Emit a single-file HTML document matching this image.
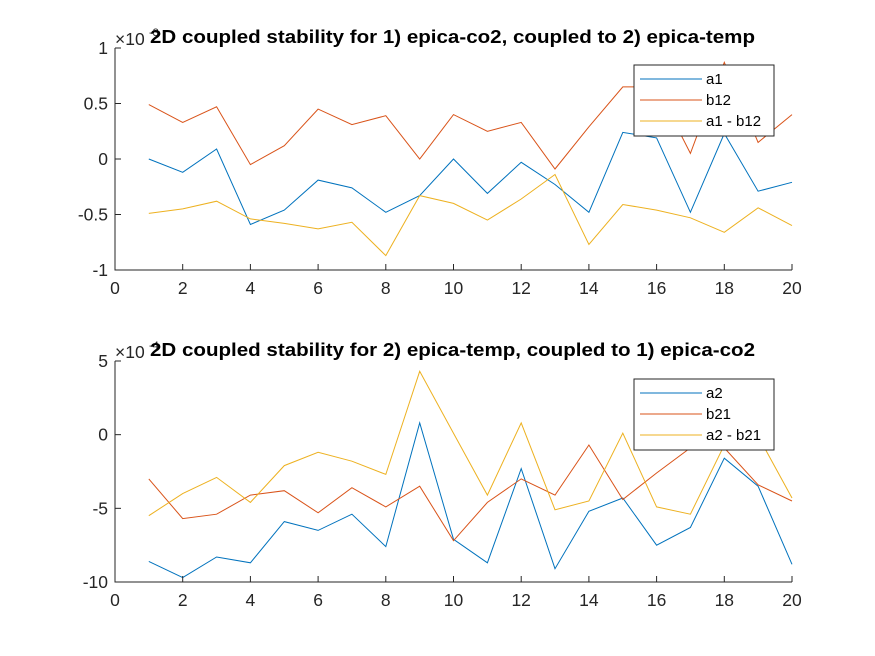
<!DOCTYPE html>
<html><head><meta charset="utf-8"><style>
html,body{margin:0;padding:0;background:#fff;}
svg{display:block;font-family:"Liberation Sans",Arial,sans-serif;}
</style></head><body>
<svg id="fig" width="875" height="656" viewBox="0 0 875 656" xmlns="http://www.w3.org/2000/svg"></svg>
<script>
const xCats = [1,2,3,4,5,6,7,8,9,10,11,12,13,14,15,16,17,18,19,20];
const xTicks = [0,2,4,6,8,10,12,14,16,18,20];
const a1 = [0.0,-0.12,0.09,-0.59,-0.46,-0.19,-0.26,-0.48,-0.33,0.0,-0.31,-0.03,-0.23,-0.48,0.24,0.19,-0.48,0.23,-0.29,-0.21];
const b12 = [0.49,0.33,0.47,-0.05,0.12,0.45,0.31,0.39,0.0,0.40,0.25,0.33,-0.09,0.29,0.65,0.65,0.05,0.87,0.15,0.40];
const a1b12 = [-0.49,-0.45,-0.38,-0.54,-0.58,-0.63,-0.57,-0.87,-0.33,-0.40,-0.55,-0.36,-0.14,-0.77,-0.41,-0.46,-0.53,-0.66,-0.44,-0.60];
const topYTicks = [-1,-0.5,0,0.5,1];
const topYLabels = ["-1","-0.5","0","0.5","1"];
const a2 = [-8.6,-9.7,-8.3,-8.7,-5.9,-6.5,-5.4,-7.6,0.8,-7.1,-8.7,-2.3,-9.1,-5.2,-4.3,-7.5,-6.3,-1.6,-3.5,-8.8];
const b21 = [-3.0,-5.7,-5.4,-4.1,-3.8,-5.3,-3.6,-4.9,-3.5,-7.2,-4.6,-3.0,-4.1,-0.7,-4.4,-2.6,-0.9,-0.9,-3.4,-4.5];
const a2b21 = [-5.5,-4.0,-2.9,-4.6,-2.1,-1.2,-1.8,-2.7,4.3,0.1,-4.1,0.8,-5.1,-4.5,0.1,-4.9,-5.4,-0.7,-0.1,-4.3];
const botYTicks = [-10,-5,0,5];
const botYLabels = ["-10","-5","0","5"];

const NS="http://www.w3.org/2000/svg";
const svg=document.getElementById('fig');
function el(tag,attrs,parent){const e=document.createElementNS(NS,tag);for(const k in attrs)e.setAttribute(k,attrs[k]);(parent||svg).appendChild(e);return e;}
const colors=["#0072BD","#D95319","#EDB120"];

function panel(cfg){
  const g=el('g',{});
  
  
  const L=115,R=792,T=cfg.top,B=cfg.bottom;
  const xs=v=>L+(v-0)/(20-0)*(R-L);
  const ys=v=>B-(v-cfg.ymin)/(cfg.ymax-cfg.ymin)*(B-T);
  cfg.series.forEach((s,i)=>{
    const p=el('polyline',{points:s.map((v,j)=>xs(xCats[j]).toFixed(1)+','+ys(v).toFixed(1)).join(' '),fill:'none',stroke:colors[i],'stroke-width':1},g);
    
    
  });
  const ax=el('path',{d:`M${L},${T}V${B}H${R}`,fill:'none',stroke:'#262626','stroke-width':1},g);
  
  
  xTicks.forEach(t=>{
    el('line',{x1:xs(t),x2:xs(t),y1:B,y2:B-6,stroke:'#262626'},g);
    const tx=el('text',{x:xs(t),y:B+24,'text-anchor':'middle','font-size':17.5,fill:'#262626'},g);
    tx.textContent=t;
    
    
  });
  cfg.yTicks.forEach((t,i)=>{
    el('line',{x1:L,x2:L+6,y1:ys(t),y2:ys(t),stroke:'#262626'},g);
    const tx=el('text',{x:L-7,y:ys(t)+6,'text-anchor':'end','font-size':17.5,fill:'#262626'},g);
    tx.textContent=cfg.yLabels[i];
    
    
  });
  const ex=el('text',{x:L,y:T-3,'font-size':17.5,fill:'#262626'},g);
  ex.textContent='×10';
  
  
  const es=el('text',{x:L+34,y:T-12,'font-size':11,fill:'#262626'},g);
  es.textContent=cfg.exp;
  const ti=el('text',{x:150,y:T-5,'font-size':18,'font-weight':'bold',fill:'#000',textLength:605,lengthAdjust:'spacingAndGlyphs'},g);
  ti.textContent=cfg.title;
  
  
  const lg=el('g',{},g);
  
  
  el('rect',{x:634,y:cfg.legTop,width:140,height:71,fill:'#fff',stroke:'#262626','stroke-width':1},lg);
  cfg.labels.forEach((lab,i)=>{
    const y=cfg.legTop+14+i*21;
    el('line',{x1:640,x2:702,y1:y,y2:y,stroke:colors[i]},lg);
    const t=el('text',{x:706,y:y+5,'font-size':15,fill:'#000'},lg);
    t.textContent=lab;
    
    
  });
}
panel({name:'top-chart',top:48,bottom:270,ymin:-1,ymax:1,yTicks:topYTicks,yLabels:topYLabels,exp:'-3',
  title:'2D coupled stability for 1) epica-co2, coupled to 2) epica-temp',
  series:[a1,b12,a1b12],labels:['a1','b12','a1 - b12'],legTop:65});
panel({name:'bottom-chart',top:361,bottom:582,ymin:-10,ymax:5,yTicks:botYTicks,yLabels:botYLabels,exp:'-4',
  title:'2D coupled stability for 2) epica-temp, coupled to 1) epica-co2',
  series:[a2,b21,a2b21],labels:['a2','b21','a2 - b21'],legTop:379});
</script>
</body></html>
